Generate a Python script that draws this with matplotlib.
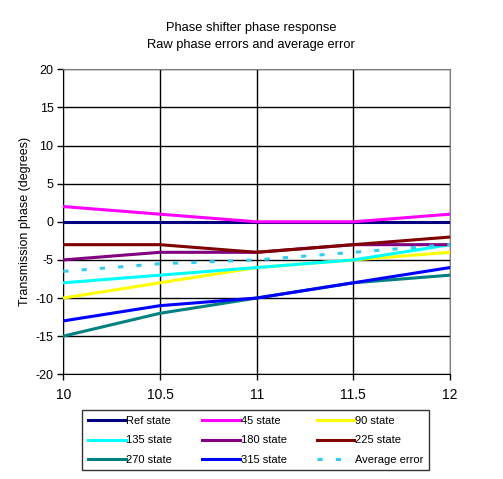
import matplotlib
matplotlib.use("Agg")
import matplotlib.pyplot as plt

plt.rcParams['font.family'] = ['Liberation Sans', 'DejaVu Sans']
plt.rcParams['axes.unicode_minus'] = False

# frequency points and phase errors (degrees)
freq = [10, 10.5, 11, 11.5, 12]
ref_state = [0, 0, 0, 0, 0]
state_45 = [2, 1, 0, 0, 1]
state_90 = [-10, -8, -6, -5, -4]
state_135 = [-8, -7, -6, -5, -3]
state_180 = [-5, -4, -4, -3, -3]
state_225 = [-3, -3, -4, -3, -2]
state_270 = [-15, -12, -10, -8, -7]
state_315 = [-13, -11, -10, -8, -6]
avg_error = [-6.5, -5.5, -5, -4, -3]

series_names = ['Ref state', '45 state', '90 state', '135 state', '180 state',
                '225 state', '270 state', '315 state', 'Average error']
series_data = [ref_state, state_45, state_90, state_135, state_180,
               state_225, state_270, state_315, avg_error]
colors = ['#000080', '#ff00ff', '#ffff00', '#00ffff', '#800080',
          '#800000', '#008080', '#0000ff', '#33ccee']

x_ticks = [10, 10.5, 11, 11.5, 12]
x_labels = ['10', '10.5', '11', '11.5', '12']
y_ticks = list(range(-20, 25, 5))

fig = plt.figure(figsize=(5.03, 4.79), dpi=100)
ax = fig.add_axes([0.1258, 0.2186, 0.7688, 0.6367])

lines = []
for name, vals, c in zip(series_names, series_data, colors):
    if name == 'Average error':
        ln, = ax.plot(freq, vals, color=c, lw=2.2, linestyle=(0, (1.7, 4.3)),
                      label=name, zorder=3)
    else:
        ln, = ax.plot(freq, vals, color=c, lw=2.2, label=name, zorder=3)
    lines.append(ln)

ax.set_xlim(10, 12)
ax.set_ylim(-20, 20)
ax.set_xticks(x_ticks)
ax.set_xticklabels(x_labels)
ax.set_yticks(y_ticks)
ax.tick_params(direction='out', length=4, width=1, colors='black')
ax.tick_params(axis='x', labelsize=10, pad=6)
ax.tick_params(axis='y', labelsize=9, pad=3)
ax.grid(True, color='black', lw=1, zorder=1)

for side in ['top', 'right']:
    ax.spines[side].set_color('#808080')
for side in ['left', 'bottom']:
    ax.spines[side].set_color('black')

ax.set_ylabel('Transmission phase (degrees)', fontsize=9, labelpad=3)

fig.text(0.499, 0.942, 'Phase shifter phase response', ha='center', va='center', fontsize=9.3)
fig.text(0.499, 0.907, 'Raw phase errors and average error', ha='center', va='center', fontsize=9.3)

# matplotlib fills legend columns first, so reorder to read row-wise
order = [0, 3, 6, 1, 4, 7, 2, 5, 8]
leg = fig.legend([lines[i] for i in order], [series_names[i] for i in order],
                 loc='center', bbox_to_anchor=(0.508, 0.0804), ncol=3,
                 fontsize=8, frameon=True, fancybox=False, edgecolor='black',
                 handlelength=3.4, handletextpad=0.05, columnspacing=2.7,
                 labelspacing=0.85, borderpad=0.5)
leg.get_frame().set_linewidth(1)

fig.savefig('out.png', dpi=100)
